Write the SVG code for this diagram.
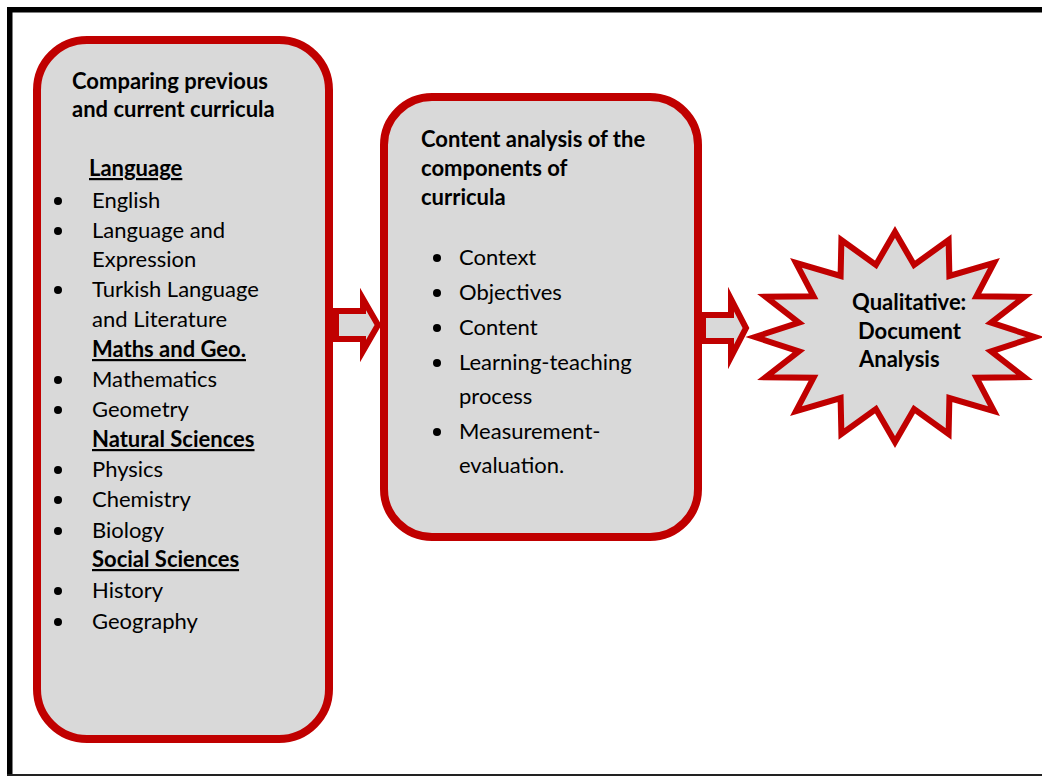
<svg xmlns="http://www.w3.org/2000/svg" width="1042" height="776" viewBox="0 0 1042 776">
<style>
  .box{fill:#D9D9D9;stroke:#C00000;stroke-width:8}
  .arr{fill:#D9D9D9;stroke:#C00000;stroke-width:6;stroke-linejoin:miter;stroke-miterlimit:10}
  .star{fill:#D9D9D9;stroke:#C00000;stroke-width:6;stroke-linejoin:miter;stroke-miterlimit:10}
  text{font-family:Lato,"Liberation Sans",sans-serif;font-size:22px;fill:#000}
  .b{font-weight:bold}
  .u{font-weight:bold;text-decoration:underline}
  .dot{fill:#000}
</style>
<rect width="1042" height="776" fill="#fff"/>
<g id="page-border">
  <rect x="7" y="7" width="1035" height="5.5" fill="#000"/>
  <rect x="7" y="7" width="5.5" height="769" fill="#000"/>
  <rect x="7" y="774" width="1035" height="2" fill="#222"/>
</g>
<g id="connectors">
  <path class="arr" d="M336,311 H363 V299 L378,325 L363,351 V339 H336 Z"/>
  <path class="arr" d="M703,315 H731 V299 L746,328 L731,357 V341 H703 Z"/>
</g>
<g id="node-compare">
  <rect class="box" x="37" y="40" width="292" height="699" rx="50" ry="50"/>
  <text class="b" x="72" y="89">Comparing previous</text>
  <text class="b" x="72" y="117">and current curricula</text>
  <text class="u" x="89" y="176">Language</text>
  <circle class="dot" cx="58" cy="201" r="4"/><text x="92" y="208">English</text>
  <circle class="dot" cx="58" cy="231" r="4"/><text x="92" y="238">Language and</text>
  <text x="92" y="267">Expression</text>
  <circle class="dot" cx="58" cy="290" r="4"/><text x="92" y="297">Turkish Language</text>
  <text x="92" y="327">and Literature</text>
  <text class="u" x="92" y="357">Maths and Geo.</text>
  <circle class="dot" cx="58" cy="380" r="4"/><text x="92" y="387">Mathematics</text>
  <circle class="dot" cx="58" cy="410" r="4"/><text x="92" y="417">Geometry</text>
  <text class="u" x="92" y="447">Natural Sciences</text>
  <circle class="dot" cx="58" cy="470" r="4"/><text x="92" y="477">Physics</text>
  <circle class="dot" cx="58" cy="500" r="4"/><text x="92" y="507">Chemistry</text>
  <circle class="dot" cx="58" cy="531" r="4"/><text x="92" y="538">Biology</text>
  <text class="u" x="92" y="567">Social Sciences</text>
  <circle class="dot" cx="58" cy="591" r="4"/><text x="92" y="598">History</text>
  <circle class="dot" cx="58" cy="622" r="4"/><text x="92" y="629">Geography</text>
</g>
<g id="node-content">
  <rect class="box" x="384" y="97" width="314" height="440" rx="48" ry="48"/>
  <text class="b" x="421" y="147">Content analysis of the</text>
  <text class="b" x="421" y="176">components of</text>
  <text class="b" x="421" y="205">curricula</text>
  <circle class="dot" cx="437" cy="258" r="4"/><text x="459" y="265">Context</text>
  <circle class="dot" cx="437" cy="293" r="4"/><text x="459" y="300">Objectives</text>
  <circle class="dot" cx="437" cy="328" r="4"/><text x="459" y="335">Content</text>
  <circle class="dot" cx="437" cy="363" r="4"/><text x="459" y="370">Learning-teaching</text>
  <text x="459" y="404">process</text>
  <circle class="dot" cx="437" cy="432" r="4"/><text x="459" y="439">Measurement-</text>
  <text x="459" y="473">evaluation.</text>
</g>
<g id="node-qualitative">
  <path class="star" d="M895,232 L914.1,264.9 L948.6,240 L949.4,275.9 L994,262.8 L976.5,296.2 L1024.3,296.8 L991.1,322.7 L1035,337 L991.1,351.3 L1024.3,377.2 L976.5,377.8 L994,411.2 L949.4,398.1 L948.6,434 L914.1,409.1 L895,442 L875.9,409.1 L841.4,434 L840.6,398.1 L796,411.2 L813.5,377.8 L765.7,377.2 L798.9,351.3 L755,337 L798.9,322.7 L765.7,296.8 L813.5,296.2 L796,262.8 L840.6,275.9 L841.4,240 L875.9,264.9 Z"/>
  <text class="b" x="852" y="310">Qualitative:</text>
  <text class="b" x="858" y="339">Document</text>
  <text class="b" x="859" y="367">Analysis</text>
</g>
</svg>
